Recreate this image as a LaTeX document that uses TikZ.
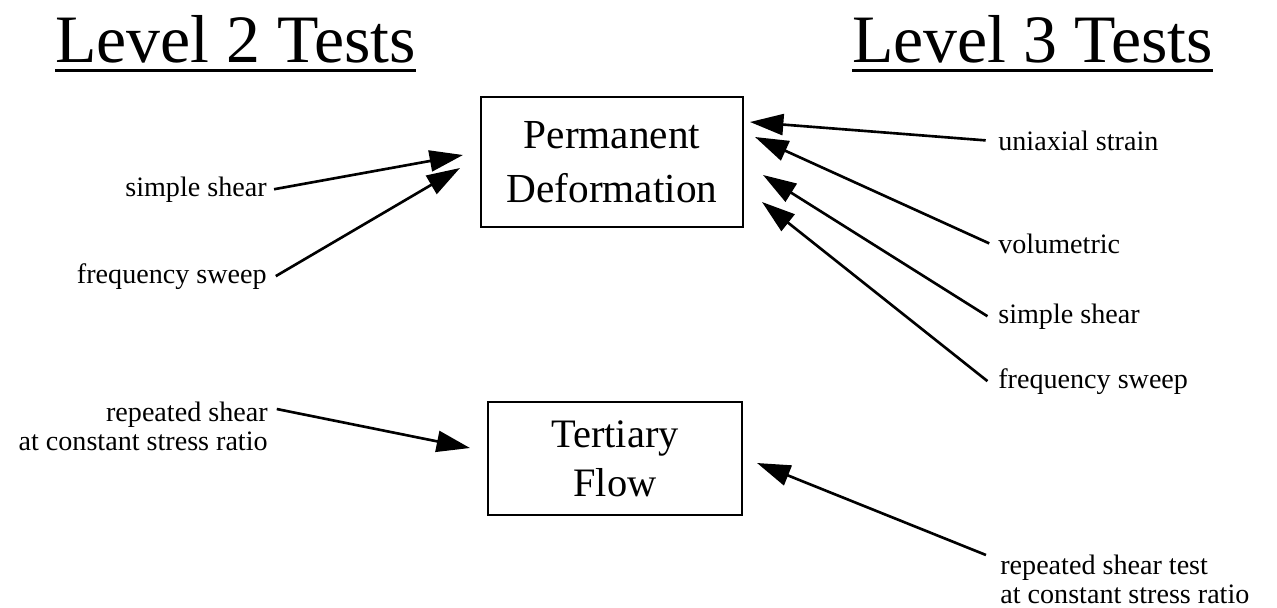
\documentclass[tikz,border=0pt]{standalone}
\usepackage{fontspec}
\setmainfont{Liberation Serif}
\usetikzlibrary{arrows.meta}

\tikzset{
  ttl/.style={inner sep=0pt,font=\fontsize{38.6}{40}\selectfont},
  box/.style={draw,line width=1.6pt,inner sep=0pt,align=center},
  lbl/.style={inner sep=0pt,font=\fontsize{16}{16.5}\selectfont},
  feed/.style={line width=1.5pt,-{Triangle[length=19pt,width=12pt]}},
}

\begin{document}
\begin{tikzpicture}[x=0.02cm,y=-0.02cm]
    \useasboundingbox (0,0) rectangle (1277,608);
    % Headings
    \node[ttl,anchor=base west] (lvtwo) at (55,63) {Level 2 Tests};
    \node[ttl,anchor=base west] (lvthree) at (852,63) {Level 3 Tests};
    \draw[line width=1.7pt] ([yshift=-4pt]lvtwo.base west) -- ([yshift=-4pt]lvtwo.base east);
    \draw[line width=1.7pt] ([yshift=-4pt]lvthree.base west) -- ([yshift=-4pt]lvthree.base east);
    % Boxes
    \node[box,minimum width=5.24cm,minimum height=2.6cm,font=\fontsize{23.5}{31}\selectfont] (permdef) at (612,162) {Permanent\\Deformation};
    \node[box,minimum width=5.08cm,minimum height=2.26cm,font=\fontsize{23}{28}\selectfont] (tertflow) at (615,458.5) {Tertiary\\Flow};
    % Level 2 labels
    \node[lbl,anchor=base east] (ssleft) at (267,196) {simple shear};
    \node[lbl,anchor=base east] (fsleft) at (267,283) {frequency sweep};
    \node[lbl,anchor=north east,align=right] (rsleft) at (268,402) {repeated shear\\at constant stress ratio};
    % Level 3 labels
    \node[lbl,anchor=base west] (uniax) at (998,150) {uniaxial strain};
    \node[lbl,anchor=base west] (volum) at (998,253) {volumetric};
    \node[lbl,anchor=base west] (ssright) at (998,323) {simple shear};
    \node[lbl,anchor=base west] (fsright) at (998,388) {frequency sweep};
    \node[lbl,anchor=north west,align=left] (rsright) at (1000,555) {repeated shear test\\at constant stress ratio};
    % Arrow tips at the boxes
    \coordinate (pdA) at (463,155);
    \coordinate (pdB) at (460,168);
    \coordinate (pdC) at (750,122);
    \coordinate (pdD) at (755,137);
    \coordinate (pdE) at (763,175);
    \coordinate (pdF) at (762,202);
    \coordinate (tfA) at (470,448);
    \coordinate (tfB) at (757,463);
    % Arrows
    \draw[feed] ([xshift=4pt]ssleft.east) -- (pdA);
    \draw[feed] ([xshift=5pt]fsleft.east) -- (pdB);
    \draw[feed] ([xshift=5pt,yshift=-4pt]rsleft.north east) -- (tfA);
    \draw[feed] ([xshift=-7pt]uniax.west) -- (pdC);
    \draw[feed] ([xshift=-5pt]volum.west) -- (pdD);
    \draw[feed] ([xshift=-6pt]ssright.west) -- (pdE);
    \draw[feed] ([xshift=-6pt]fsright.west) -- (pdF);
    \draw[feed] ([xshift=-8pt]rsright.north west) -- (tfB);
\end{tikzpicture}
\end{document}
